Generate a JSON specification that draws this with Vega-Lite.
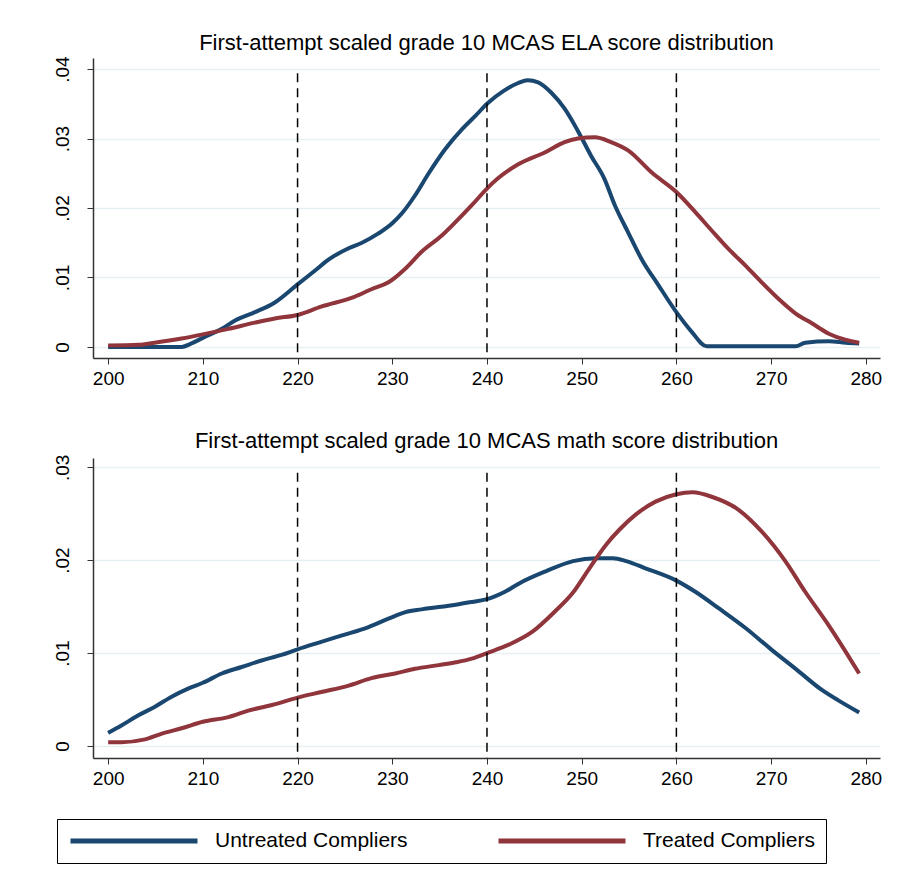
{
  "$schema": "https://vega.github.io/schema/vega-lite/v6.json",
  "background": "white",
  "padding": {"left": 52, "top": 31, "right": 5, "bottom": 5},
  "spacing": 100,
  "bounds": "flush",
  "config": {
    "view": {"stroke": null, "fill": "white"},
    "font": "Liberation Sans",
    "axis": {
      "domainColor": "#333333",
      "domainWidth": 1.5,
      "tickColor": "#333333",
      "tickSize": 6,
      "labelColor": "black",
      "labelFont": "Liberation Sans",
      "labelFontSize": 19,
      "title": null
    },
    "title": {"font": "Liberation Sans", "fontSize": 22, "fontWeight": "normal", "color": "black", "anchor": "middle", "offset": 1}
  },
  "datasets": {
    "curves": [
      {"panel": "ELA", "group": "Untreated Compliers", "score": 200, "density": 0},
      {"panel": "ELA", "group": "Untreated Compliers", "score": 204, "density": 0},
      {"panel": "ELA", "group": "Untreated Compliers", "score": 207.75, "density": 0},
      {"panel": "ELA", "group": "Untreated Compliers", "score": 208.8, "density": 0.0005},
      {"panel": "ELA", "group": "Untreated Compliers", "score": 210, "density": 0.0013},
      {"panel": "ELA", "group": "Untreated Compliers", "score": 212, "density": 0.0026},
      {"panel": "ELA", "group": "Untreated Compliers", "score": 213.4, "density": 0.0038},
      {"panel": "ELA", "group": "Untreated Compliers", "score": 215.5, "density": 0.005},
      {"panel": "ELA", "group": "Untreated Compliers", "score": 217.6, "density": 0.0064},
      {"panel": "ELA", "group": "Untreated Compliers", "score": 220, "density": 0.009},
      {"panel": "ELA", "group": "Untreated Compliers", "score": 221.85, "density": 0.011},
      {"panel": "ELA", "group": "Untreated Compliers", "score": 223.3, "density": 0.0126},
      {"panel": "ELA", "group": "Untreated Compliers", "score": 225.4, "density": 0.0142},
      {"panel": "ELA", "group": "Untreated Compliers", "score": 226.8, "density": 0.015},
      {"panel": "ELA", "group": "Untreated Compliers", "score": 228.5, "density": 0.0163},
      {"panel": "ELA", "group": "Untreated Compliers", "score": 230, "density": 0.0178},
      {"panel": "ELA", "group": "Untreated Compliers", "score": 231, "density": 0.0192},
      {"panel": "ELA", "group": "Untreated Compliers", "score": 232.4, "density": 0.0218},
      {"panel": "ELA", "group": "Untreated Compliers", "score": 233.8, "density": 0.0249},
      {"panel": "ELA", "group": "Untreated Compliers", "score": 235.6, "density": 0.0285},
      {"panel": "ELA", "group": "Untreated Compliers", "score": 237.4, "density": 0.0314},
      {"panel": "ELA", "group": "Untreated Compliers", "score": 238.8, "density": 0.0333},
      {"panel": "ELA", "group": "Untreated Compliers", "score": 240, "density": 0.035},
      {"panel": "ELA", "group": "Untreated Compliers", "score": 241.8, "density": 0.0369},
      {"panel": "ELA", "group": "Untreated Compliers", "score": 243.3, "density": 0.038},
      {"panel": "ELA", "group": "Untreated Compliers", "score": 244.3, "density": 0.0384},
      {"panel": "ELA", "group": "Untreated Compliers", "score": 245.4, "density": 0.0381},
      {"panel": "ELA", "group": "Untreated Compliers", "score": 246.8, "density": 0.0366},
      {"panel": "ELA", "group": "Untreated Compliers", "score": 248.2, "density": 0.0343},
      {"panel": "ELA", "group": "Untreated Compliers", "score": 249.6, "density": 0.0311},
      {"panel": "ELA", "group": "Untreated Compliers", "score": 251, "density": 0.0275},
      {"panel": "ELA", "group": "Untreated Compliers", "score": 252.4, "density": 0.0242},
      {"panel": "ELA", "group": "Untreated Compliers", "score": 253.5, "density": 0.0204},
      {"panel": "ELA", "group": "Untreated Compliers", "score": 254.9, "density": 0.0165},
      {"panel": "ELA", "group": "Untreated Compliers", "score": 256.3, "density": 0.0127},
      {"panel": "ELA", "group": "Untreated Compliers", "score": 258.1, "density": 0.0089},
      {"panel": "ELA", "group": "Untreated Compliers", "score": 260, "density": 0.005},
      {"panel": "ELA", "group": "Untreated Compliers", "score": 261.6, "density": 0.0022},
      {"panel": "ELA", "group": "Untreated Compliers", "score": 263.2, "density": 0.0001},
      {"panel": "ELA", "group": "Untreated Compliers", "score": 267.3, "density": 0.0001},
      {"panel": "ELA", "group": "Untreated Compliers", "score": 272.6, "density": 0.0001},
      {"panel": "ELA", "group": "Untreated Compliers", "score": 273.6, "density": 0.0006},
      {"panel": "ELA", "group": "Untreated Compliers", "score": 276.1, "density": 0.0008},
      {"panel": "ELA", "group": "Untreated Compliers", "score": 277.9, "density": 0.0006},
      {"panel": "ELA", "group": "Untreated Compliers", "score": 279.3, "density": 0.0005},
      {"panel": "ELA", "group": "Treated Compliers", "score": 200, "density": 0.0002},
      {"panel": "ELA", "group": "Treated Compliers", "score": 203.2, "density": 0.0003},
      {"panel": "ELA", "group": "Treated Compliers", "score": 204.9, "density": 0.0006},
      {"panel": "ELA", "group": "Treated Compliers", "score": 207.75, "density": 0.0012},
      {"panel": "ELA", "group": "Treated Compliers", "score": 210, "density": 0.0018},
      {"panel": "ELA", "group": "Treated Compliers", "score": 212.7, "density": 0.0026},
      {"panel": "ELA", "group": "Treated Compliers", "score": 215.5, "density": 0.0035},
      {"panel": "ELA", "group": "Treated Compliers", "score": 217.6, "density": 0.0041},
      {"panel": "ELA", "group": "Treated Compliers", "score": 220, "density": 0.0046},
      {"panel": "ELA", "group": "Treated Compliers", "score": 222.5, "density": 0.0058},
      {"panel": "ELA", "group": "Treated Compliers", "score": 226, "density": 0.0072},
      {"panel": "ELA", "group": "Treated Compliers", "score": 227.8, "density": 0.0083},
      {"panel": "ELA", "group": "Treated Compliers", "score": 229.6, "density": 0.0093},
      {"panel": "ELA", "group": "Treated Compliers", "score": 231.4, "density": 0.0113},
      {"panel": "ELA", "group": "Treated Compliers", "score": 233.1, "density": 0.0137},
      {"panel": "ELA", "group": "Treated Compliers", "score": 235.2, "density": 0.016},
      {"panel": "ELA", "group": "Treated Compliers", "score": 236.7, "density": 0.018},
      {"panel": "ELA", "group": "Treated Compliers", "score": 238.4, "density": 0.0204},
      {"panel": "ELA", "group": "Treated Compliers", "score": 240, "density": 0.0228},
      {"panel": "ELA", "group": "Treated Compliers", "score": 241.1, "density": 0.0242},
      {"panel": "ELA", "group": "Treated Compliers", "score": 243.3, "density": 0.0263},
      {"panel": "ELA", "group": "Treated Compliers", "score": 246.1, "density": 0.028},
      {"panel": "ELA", "group": "Treated Compliers", "score": 248.2, "density": 0.0295},
      {"panel": "ELA", "group": "Treated Compliers", "score": 249.6, "density": 0.03},
      {"panel": "ELA", "group": "Treated Compliers", "score": 251.4, "density": 0.0302},
      {"panel": "ELA", "group": "Treated Compliers", "score": 253.1, "density": 0.0295},
      {"panel": "ELA", "group": "Treated Compliers", "score": 254.9, "density": 0.0283},
      {"panel": "ELA", "group": "Treated Compliers", "score": 257.4, "density": 0.0251},
      {"panel": "ELA", "group": "Treated Compliers", "score": 260, "density": 0.0223},
      {"panel": "ELA", "group": "Treated Compliers", "score": 262, "density": 0.0194},
      {"panel": "ELA", "group": "Treated Compliers", "score": 263.7, "density": 0.0168},
      {"panel": "ELA", "group": "Treated Compliers", "score": 265.5, "density": 0.0141},
      {"panel": "ELA", "group": "Treated Compliers", "score": 267.3, "density": 0.0117},
      {"panel": "ELA", "group": "Treated Compliers", "score": 269, "density": 0.0093},
      {"panel": "ELA", "group": "Treated Compliers", "score": 270.8, "density": 0.0069},
      {"panel": "ELA", "group": "Treated Compliers", "score": 272.6, "density": 0.0048},
      {"panel": "ELA", "group": "Treated Compliers", "score": 274.3, "density": 0.0034},
      {"panel": "ELA", "group": "Treated Compliers", "score": 276.1, "density": 0.0019},
      {"panel": "ELA", "group": "Treated Compliers", "score": 277.9, "density": 0.001},
      {"panel": "ELA", "group": "Treated Compliers", "score": 279.3, "density": 0.0006},
      {"panel": "Math", "group": "Untreated Compliers", "score": 200, "density": 0.0014},
      {"panel": "Math", "group": "Untreated Compliers", "score": 201.4, "density": 0.0022},
      {"panel": "Math", "group": "Untreated Compliers", "score": 203.2, "density": 0.0033},
      {"panel": "Math", "group": "Untreated Compliers", "score": 204.9, "density": 0.0042},
      {"panel": "Math", "group": "Untreated Compliers", "score": 206.7, "density": 0.0053},
      {"panel": "Math", "group": "Untreated Compliers", "score": 208.5, "density": 0.0062},
      {"panel": "Math", "group": "Untreated Compliers", "score": 210, "density": 0.0068},
      {"panel": "Math", "group": "Untreated Compliers", "score": 212, "density": 0.0078},
      {"panel": "Math", "group": "Untreated Compliers", "score": 214.1, "density": 0.0085},
      {"panel": "Math", "group": "Untreated Compliers", "score": 216.2, "density": 0.0092},
      {"panel": "Math", "group": "Untreated Compliers", "score": 218.3, "density": 0.0098},
      {"panel": "Math", "group": "Untreated Compliers", "score": 220, "density": 0.0104},
      {"panel": "Math", "group": "Untreated Compliers", "score": 222.5, "density": 0.0112},
      {"panel": "Math", "group": "Untreated Compliers", "score": 224.7, "density": 0.0119},
      {"panel": "Math", "group": "Untreated Compliers", "score": 227.5, "density": 0.0128},
      {"panel": "Math", "group": "Untreated Compliers", "score": 229.6, "density": 0.0137},
      {"panel": "Math", "group": "Untreated Compliers", "score": 231.4, "density": 0.0144},
      {"panel": "Math", "group": "Untreated Compliers", "score": 233.1, "density": 0.0147},
      {"panel": "Math", "group": "Untreated Compliers", "score": 236.7, "density": 0.0152},
      {"panel": "Math", "group": "Untreated Compliers", "score": 238.4, "density": 0.0155},
      {"panel": "Math", "group": "Untreated Compliers", "score": 240, "density": 0.0158},
      {"panel": "Math", "group": "Untreated Compliers", "score": 241.9, "density": 0.0166},
      {"panel": "Math", "group": "Untreated Compliers", "score": 243.4, "density": 0.0175},
      {"panel": "Math", "group": "Untreated Compliers", "score": 246.2, "density": 0.0188},
      {"panel": "Math", "group": "Untreated Compliers", "score": 249.1, "density": 0.0199},
      {"panel": "Math", "group": "Untreated Compliers", "score": 251.5, "density": 0.0202},
      {"panel": "Math", "group": "Untreated Compliers", "score": 253.3, "density": 0.0202},
      {"panel": "Math", "group": "Untreated Compliers", "score": 254.7, "density": 0.0199},
      {"panel": "Math", "group": "Untreated Compliers", "score": 256.8, "density": 0.0191},
      {"panel": "Math", "group": "Untreated Compliers", "score": 260, "density": 0.0178},
      {"panel": "Math", "group": "Untreated Compliers", "score": 262, "density": 0.0166},
      {"panel": "Math", "group": "Untreated Compliers", "score": 264.5, "density": 0.0148},
      {"panel": "Math", "group": "Untreated Compliers", "score": 267.3, "density": 0.0127},
      {"panel": "Math", "group": "Untreated Compliers", "score": 270, "density": 0.0104},
      {"panel": "Math", "group": "Untreated Compliers", "score": 272.6, "density": 0.0083},
      {"panel": "Math", "group": "Untreated Compliers", "score": 275.4, "density": 0.006},
      {"panel": "Math", "group": "Untreated Compliers", "score": 277.1, "density": 0.0049},
      {"panel": "Math", "group": "Untreated Compliers", "score": 279.3, "density": 0.0036},
      {"panel": "Math", "group": "Treated Compliers", "score": 200, "density": 0.0004},
      {"panel": "Math", "group": "Treated Compliers", "score": 201.4, "density": 0.0004},
      {"panel": "Math", "group": "Treated Compliers", "score": 203.9, "density": 0.0007},
      {"panel": "Math", "group": "Treated Compliers", "score": 205.6, "density": 0.0013},
      {"panel": "Math", "group": "Treated Compliers", "score": 207.75, "density": 0.0019},
      {"panel": "Math", "group": "Treated Compliers", "score": 210, "density": 0.0026},
      {"panel": "Math", "group": "Treated Compliers", "score": 212.7, "density": 0.0031},
      {"panel": "Math", "group": "Treated Compliers", "score": 214.8, "density": 0.0038},
      {"panel": "Math", "group": "Treated Compliers", "score": 217.3, "density": 0.0044},
      {"panel": "Math", "group": "Treated Compliers", "score": 220, "density": 0.0052},
      {"panel": "Math", "group": "Treated Compliers", "score": 222.5, "density": 0.0058},
      {"panel": "Math", "group": "Treated Compliers", "score": 225.4, "density": 0.0065},
      {"panel": "Math", "group": "Treated Compliers", "score": 227.8, "density": 0.0073},
      {"panel": "Math", "group": "Treated Compliers", "score": 230.3, "density": 0.0078},
      {"panel": "Math", "group": "Treated Compliers", "score": 232.4, "density": 0.0083},
      {"panel": "Math", "group": "Treated Compliers", "score": 234.9, "density": 0.0087},
      {"panel": "Math", "group": "Treated Compliers", "score": 236.7, "density": 0.009},
      {"panel": "Math", "group": "Treated Compliers", "score": 238.4, "density": 0.0094},
      {"panel": "Math", "group": "Treated Compliers", "score": 240, "density": 0.01},
      {"panel": "Math", "group": "Treated Compliers", "score": 242.3, "density": 0.0109},
      {"panel": "Math", "group": "Treated Compliers", "score": 244.8, "density": 0.0123},
      {"panel": "Math", "group": "Treated Compliers", "score": 247.2, "density": 0.0145},
      {"panel": "Math", "group": "Treated Compliers", "score": 249, "density": 0.0164},
      {"panel": "Math", "group": "Treated Compliers", "score": 250.8, "density": 0.0191},
      {"panel": "Math", "group": "Treated Compliers", "score": 252.6, "density": 0.0217},
      {"panel": "Math", "group": "Treated Compliers", "score": 254, "density": 0.0233},
      {"panel": "Math", "group": "Treated Compliers", "score": 255.7, "density": 0.0249},
      {"panel": "Math", "group": "Treated Compliers", "score": 257.8, "density": 0.0263},
      {"panel": "Math", "group": "Treated Compliers", "score": 260, "density": 0.0271},
      {"panel": "Math", "group": "Treated Compliers", "score": 261.7, "density": 0.0273},
      {"panel": "Math", "group": "Treated Compliers", "score": 263.8, "density": 0.0268},
      {"panel": "Math", "group": "Treated Compliers", "score": 266.6, "density": 0.0254},
      {"panel": "Math", "group": "Treated Compliers", "score": 269, "density": 0.0231},
      {"panel": "Math", "group": "Treated Compliers", "score": 271.5, "density": 0.0199},
      {"panel": "Math", "group": "Treated Compliers", "score": 273.6, "density": 0.0166},
      {"panel": "Math", "group": "Treated Compliers", "score": 275.8, "density": 0.0134},
      {"panel": "Math", "group": "Treated Compliers", "score": 277.9, "density": 0.0101},
      {"panel": "Math", "group": "Treated Compliers", "score": 279.3, "density": 0.0078}
    ],
    "cutoffs": [
      {"score": 220},
      {"score": 240},
      {"score": 260}
    ]
  },
  "vconcat": [
    {
      "width": 787,
      "height": 300,
      "title": "First-attempt scaled grade 10 MCAS ELA score distribution",
      "layer": [
        {
          "data": {"name": "curves"},
          "transform": [{"filter": "datum.panel == 'ELA'"}],
          "mark": {"type": "line", "strokeWidth": 4, "interpolate": "monotone"},
          "encoding": {
            "x": {"field": "score", "type": "quantitative",
                  "scale": {"domain": [198.4, 281.5], "nice": false, "zero": false},
                  "axis": {"values": [200, 210, 220, 230, 240, 250, 260, 270, 280], "grid": false, "labelPadding": 5}},
            "y": {"field": "density", "type": "quantitative",
                  "scale": {"domain": [-0.0016, 0.0416], "nice": false, "zero": false},
                  "axis": {"values": [0, 0.01, 0.02, 0.03, 0.04], "grid": true, "gridColor": "#E6EFF1", "gridWidth": 1.5,
                           "labelAngle": 270, "labelAlign": "center", "labelBaseline": "bottom", "labelPadding": 15,
                           "labelExpr": "datum.value == 0 ? '0' : slice(format(datum.value, '.2f'), 1)"}},
            "color": {"field": "group", "type": "nominal",
                      "scale": {"domain": ["Untreated Compliers", "Treated Compliers"], "range": ["#1A476F", "#90353B"]},
                      "legend": {"orient": "none", "legendX": -36, "legendY": 761, "direction": "horizontal", "columns": 2,
                                 "title": null, "symbolType": "stroke", "symbolSize": 16129, "symbolStrokeWidth": 5,
                                 "clipHeight": 22, "labelLimit": 400,
                                 "labelFontSize": 21, "labelFont": "Liberation Sans", "labelColor": "black", "labelOffset": 15,
                                 "columnPadding": 88, "padding": 11, "strokeColor": "black", "fillColor": "white", "gridAlign": "all"}}
          }
        },
        {
          "data": {"name": "cutoffs"},
          "mark": {"type": "rule", "color": "black", "strokeWidth": 1.5, "strokeDash": [9, 6]},
          "encoding": {
            "x": {"field": "score", "type": "quantitative"},
            "y": {"datum": 0.0394},
            "y2": {"datum": -0.0016}
          }
        }
      ]
    },
    {
      "width": 787,
      "height": 300,
      "title": "First-attempt scaled grade 10 MCAS math score distribution",
      "layer": [
        {
          "data": {"name": "curves"},
          "transform": [{"filter": "datum.panel == 'Math'"}],
          "mark": {"type": "line", "strokeWidth": 4, "interpolate": "monotone"},
          "encoding": {
            "x": {"field": "score", "type": "quantitative",
                  "scale": {"domain": [198.4, 281.5], "nice": false, "zero": false},
                  "axis": {"values": [200, 210, 220, 230, 240, 250, 260, 270, 280], "grid": false, "labelPadding": 5}},
            "y": {"field": "density", "type": "quantitative",
                  "scale": {"domain": [-0.0013, 0.031], "nice": false, "zero": false},
                  "axis": {"values": [0, 0.01, 0.02, 0.03], "grid": true, "gridColor": "#E6EFF1", "gridWidth": 1.5,
                           "labelAngle": 270, "labelAlign": "center", "labelBaseline": "bottom", "labelPadding": 15,
                           "labelExpr": "datum.value == 0 ? '0' : slice(format(datum.value, '.2f'), 1)"}},
            "color": {"field": "group", "type": "nominal",
                      "scale": {"domain": ["Untreated Compliers", "Treated Compliers"], "range": ["#1A476F", "#90353B"]},
                      "legend": {"orient": "none", "legendX": -36, "legendY": 761, "direction": "horizontal", "columns": 2,
                                 "title": null, "symbolType": "stroke", "symbolSize": 16129, "symbolStrokeWidth": 5,
                                 "clipHeight": 22, "labelLimit": 400,
                                 "labelFontSize": 21, "labelFont": "Liberation Sans", "labelColor": "black", "labelOffset": 15,
                                 "columnPadding": 88, "padding": 11, "strokeColor": "black", "fillColor": "white", "gridAlign": "all"}}
          }
        },
        {
          "data": {"name": "cutoffs"},
          "mark": {"type": "rule", "color": "black", "strokeWidth": 1.5, "strokeDash": [9, 6]},
          "encoding": {
            "x": {"field": "score", "type": "quantitative"},
            "y": {"datum": 0.0294},
            "y2": {"datum": -0.0013}
          }
        }
      ]
    }
  ]
}
